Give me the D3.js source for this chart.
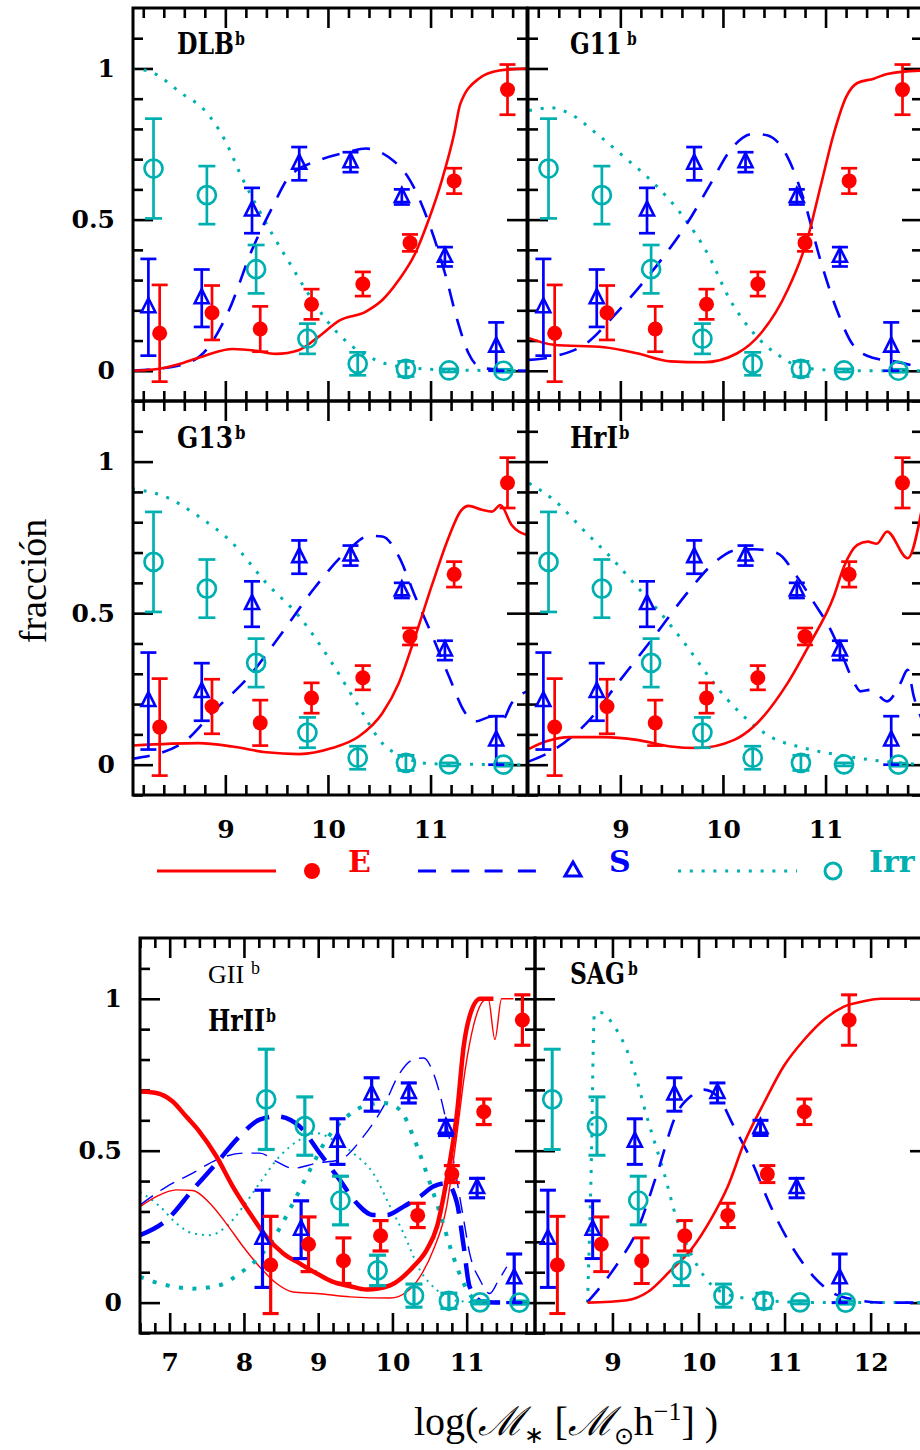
<!DOCTYPE html>
<html>
<head>
<meta charset="utf-8">
<script src="https://cdn.jsdelivr.net/npm/d3@7"></script>
<style>
body { margin:0; background:#fff; }
svg { display:block; }
</style>
</head>
<body>
<div id="chart"></div>
<script>
// observed morphological fractions (same points in every panel)
var obsE_x   = [8.36, 8.87, 9.34, 9.84, 10.34, 10.80, 11.23, 11.75];
var obsE_y   = [0.124, 0.192, 0.138, 0.220, 0.287, 0.423, 0.628, 0.930];
var obsE_err = [0.160, 0.090, 0.075, 0.050, 0.040, 0.028, 0.042, 0.083];

var obsS_x   = [8.25, 8.77, 9.26, 9.72, 10.22, 10.72, 11.14, 11.64];
var obsS_y   = [0.210, 0.240, 0.530, 0.685, 0.690, 0.575, 0.377, 0.080];
var obsS_err = [0.160, 0.095, 0.075, 0.055, 0.033, 0.025, 0.032, 0.080];

var obsIrr_x   = [8.30, 8.82, 9.30, 9.80, 10.29, 10.76, 11.18, 11.71];
var obsIrr_y   = [0.669, 0.581, 0.336, 0.106, 0.023, 0.006, 0.001, 0.000];
var obsIrr_err = [0.165, 0.096, 0.080, 0.050, 0.038, 0.025, 0.005, 0.005];

// model curves [logM, fraction]
var dlbE = [[8.09,0],[8.3,0.004],[8.58,0.025],[8.8,0.05],[9.07,0.072],[9.3,0.066],[9.49,0.056],[9.72,0.069],[9.91,0.113],[10.11,0.166],[10.37,0.196],[10.53,0.234],[10.69,0.3],[10.85,0.388],[10.98,0.498],[11.11,0.63],[11.23,0.784],[11.29,0.883],[11.47,0.966],[11.67,0.993],[11.94,1.0]];
var dlbS = [[8.09,0],[8.58,0.02],[8.84,0.08],[9.03,0.196],[9.26,0.4],[9.46,0.542],[9.62,0.641],[9.91,0.696],[10.2,0.724],[10.37,0.735],[10.59,0.707],[10.8,0.63],[11.02,0.454],[11.15,0.311],[11.26,0.168],[11.37,0.058],[11.5,0.009],[11.94,0]];
var dlbIrr = [[8.09,1.0],[8.28,0.988],[8.58,0.916],[8.8,0.861],[9.0,0.76],[9.16,0.64],[9.33,0.53],[9.46,0.45],[9.62,0.36],[9.78,0.27],[9.98,0.17],[10.24,0.08],[10.46,0.036],[10.76,0.011],[11.18,0.003],[11.94,0]];

var g11E = [[8.11,0.108],[8.35,0.086],[8.84,0.078],[9.16,0.058],[9.49,0.031],[9.81,0.028],[10.14,0.058],[10.37,0.124],[10.63,0.267],[10.82,0.432],[10.95,0.608],[11.08,0.784],[11.2,0.905],[11.31,0.952],[11.47,0.966],[11.6,0.982],[11.94,0.993]];
var g11S = [[8.11,0.036],[8.35,0.047],[8.67,0.091],[8.93,0.179],[9.16,0.267],[9.42,0.377],[9.65,0.487],[9.88,0.619],[10.07,0.729],[10.3,0.784],[10.43,0.779],[10.63,0.707],[10.79,0.564],[10.95,0.366],[11.11,0.201],[11.28,0.08],[11.47,0.042],[11.67,0.031],[11.94,0.009]];
var g11Irr = [[8.11,0.861],[8.32,0.87],[8.51,0.85],[8.77,0.784],[9.0,0.718],[9.33,0.619],[9.59,0.52],[9.85,0.388],[10.07,0.234],[10.3,0.124],[10.56,0.047],[10.79,0.009],[11.28,0],[11.94,0]];

var g13E = [[8.09,0.063],[8.74,0.071],[9.07,0.06],[9.4,0.041],[9.72,0.035],[10.04,0.055],[10.3,0.093],[10.53,0.17],[10.69,0.269],[10.85,0.423],[11.02,0.599],[11.18,0.753],[11.29,0.835],[11.37,0.854],[11.5,0.841],[11.6,0.835],[11.68,0.857],[11.79,0.791],[11.94,0.758]];
var g13S = [[8.09,0.019],[8.58,0.071],[8.9,0.181],[9.23,0.291],[9.55,0.434],[9.88,0.588],[10.2,0.709],[10.4,0.755],[10.53,0.753],[10.69,0.687],[10.85,0.555],[11.02,0.423],[11.18,0.291],[11.34,0.17],[11.44,0.143],[11.6,0.159],[11.7,0.148],[11.79,0.203],[11.94,0.242]];
var g13Irr = [[8.09,0.91],[8.41,0.885],[8.74,0.819],[9.07,0.731],[9.4,0.599],[9.72,0.489],[10.04,0.335],[10.3,0.192],[10.53,0.071],[10.76,0.022],[11.02,0.003],[11.94,0]];

var hr1E = [[8.11,0.052],[8.28,0.077],[8.51,0.091],[8.84,0.091],[9.16,0.082],[9.49,0.06],[9.75,0.055],[10.11,0.082],[10.3,0.126],[10.63,0.269],[10.85,0.401],[11.08,0.555],[11.18,0.654],[11.31,0.725],[11.41,0.736],[11.5,0.729],[11.6,0.769],[11.8,0.681],[11.94,0.846]];
var hr1S = [[8.11,0.011],[8.35,0.049],[8.67,0.137],[9.0,0.28],[9.33,0.423],[9.65,0.566],[9.91,0.665],[10.14,0.709],[10.3,0.711],[10.53,0.698],[10.72,0.621],[10.89,0.533],[11.05,0.445],[11.18,0.346],[11.28,0.269],[11.34,0.242],[11.44,0.247],[11.6,0.209],[11.73,0.269],[11.8,0.313],[11.86,0.225],[11.94,0.148]];
var hr1Irr = [[8.11,0.929],[8.35,0.874],[8.67,0.764],[8.93,0.676],[9.16,0.588],[9.42,0.489],[9.65,0.39],[9.91,0.269],[10.17,0.17],[10.46,0.093],[10.79,0.055],[11.11,0.033],[11.44,0.016],[11.94,0]];

var gIIE = [[6.6,0.316],[6.82,0.349],[7.09,0.371],[7.31,0.369],[7.54,0.327],[7.76,0.261],[7.99,0.184],[8.21,0.118],[8.44,0.063],[8.66,0.035],[8.98,0.03],[9.43,0.019],[9.97,0.015],[10.19,0.035],[10.37,0.085],[10.55,0.173],[10.73,0.316],[10.87,0.558],[10.98,0.767],[11.09,0.91],[11.22,0.992],[11.29,1.0],[11.38,0.866],[11.47,1.0],[11.63,1.0]];
var gIIS = [[6.6,0.321],[6.96,0.382],[7.31,0.426],[7.63,0.47],[7.99,0.492],[8.21,0.492],[8.44,0.464],[8.66,0.442],[8.98,0.459],[9.29,0.47],[9.61,0.547],[9.88,0.646],[10.1,0.756],[10.28,0.8],[10.42,0.805],[10.55,0.756],[10.69,0.635],[10.82,0.47],[10.96,0.272],[11.04,0.162],[11.18,0.074],[11.31,0.03],[11.43,0.074],[11.54,0.118]];
var gIIIrr = [[6.6,0.365],[6.87,0.316],[7.09,0.261],[7.31,0.228],[7.54,0.222],[7.76,0.25],[7.99,0.316],[8.21,0.393],[8.48,0.481],[8.75,0.536],[8.98,0.558],[9.2,0.536],[9.47,0.492],[9.74,0.426],[9.97,0.316],[10.15,0.228],[10.37,0.107],[10.6,0.041],[10.82,0.008],[11.22,0]];

var hr2E = [[6.6,0.695],[6.82,0.69],[7.04,0.662],[7.22,0.613],[7.4,0.563],[7.63,0.481],[7.85,0.382],[8.08,0.294],[8.3,0.217],[8.53,0.162],[8.75,0.129],[8.98,0.096],[9.2,0.068],[9.43,0.054],[9.65,0.043],[9.97,0.057],[10.28,0.118],[10.46,0.173],[10.6,0.25],[10.73,0.404],[10.87,0.624],[10.96,0.844],[11.04,0.943],[11.18,1.0],[11.36,1.0]];
var hr2S = [[6.6,0.222],[6.96,0.272],[7.31,0.371],[7.63,0.459],[7.94,0.547],[8.21,0.602],[8.44,0.613],[8.75,0.58],[9.02,0.492],[9.29,0.404],[9.52,0.327],[9.74,0.288],[9.92,0.288],[10.15,0.316],[10.37,0.349],[10.55,0.382],[10.73,0.393],[10.87,0.327],[10.96,0.184],[11.04,0.052],[11.22,0.002],[11.45,0]];
var hr2Irr = [[6.6,0.085],[6.96,0.057],[7.31,0.046],[7.67,0.057],[7.94,0.096],[8.21,0.151],[8.44,0.228],[8.66,0.327],[8.89,0.437],[9.11,0.536],[9.34,0.602],[9.61,0.646],[9.88,0.657],[10.1,0.635],[10.28,0.547],[10.46,0.426],[10.64,0.294],[10.82,0.151],[10.96,0.063],[11.13,0.008],[11.45,0]];

var sagE = [[8.71,0],[9.17,0.008],[9.41,0.035],[9.68,0.107],[9.91,0.173],[10.14,0.272],[10.34,0.382],[10.53,0.525],[10.76,0.657],[10.99,0.778],[11.23,0.866],[11.46,0.932],[11.69,0.974],[11.92,0.992],[12.12,1.0],[12.7,1.0]];
var sagS = [[8.71,0.002],[8.83,0.041],[9.06,0.129],[9.29,0.239],[9.52,0.426],[9.75,0.624],[9.91,0.679],[10.06,0.701],[10.22,0.679],[10.41,0.58],[10.61,0.47],[10.84,0.316],[11.11,0.173],[11.34,0.085],[11.57,0.03],[11.85,0.008],[12.12,0],[12.7,0]];
var sagIrr = [[8.71,0.0],[8.75,0.4],[8.79,0.95],[8.86,0.955],[9.02,0.91],[9.21,0.8],[9.41,0.602],[9.6,0.426],[9.75,0.272],[9.91,0.162],[10.1,0.074],[10.37,0.024],[10.76,0.008],[11.34,0],[12.7,0]];

var legendNames = ["E", "S", "Irr"];

var col = {E:"#ff0000", S:"#0000ff", Irr:"#00b0b0"};
var lineStyle = {
	E:   {normal:{w:2.6, dash:null}, thick:{w:4.5, dash:null}, thin:{w:1.4, dash:null}},
	S:   {normal:{w:2.6, dash:"18,13"}, thick:{w:4.5, dash:"26,12"}, thin:{w:1.4, dash:"16,9"}},
	Irr: {normal:{w:3, dash:"3,8.8"}, thick:{w:4, dash:"4,9.5"}, thin:{w:2, dash:"2,5"}}
};

var tickFont = "'DejaVu Serif', serif";
var svg = d3.select("#chart").append("svg").attr("width", 920).attr("height", 1450);

var panels = [
	{left:133, top:8,   w:394, h:393, xdom:[8.1,11.94], xlab:false, ylab:true,
	 labels:[{t:"DLB", x:177, y:54, len:57, bx:235, bold:true}],
	 curves:[{d:dlbIrr,k:"Irr"},{d:dlbS,k:"S"},{d:dlbE,k:"E"}]},
	{left:528, top:8,   w:394, h:393, xdom:[8.1,11.94], xlab:false, ylab:false,
	 labels:[{t:"G11", x:570, y:54, len:52, bx:627, bold:true}],
	 curves:[{d:g11Irr,k:"Irr"},{d:g11S,k:"S"},{d:g11E,k:"E"}]},
	{left:133, top:401, w:394, h:394, xdom:[8.1,11.94], xlab:true, ylab:true, xpad:25,
	 labels:[{t:"G13", x:177, y:448, len:56, bx:235, bold:true}],
	 curves:[{d:g13Irr,k:"Irr"},{d:g13S,k:"S"},{d:g13E,k:"E"}]},
	{left:528, top:401, w:394, h:394, xdom:[8.1,11.94], xlab:true, ylab:false, xpad:25,
	 labels:[{t:"HrI", x:570, y:448, len:48, bx:619, bold:true}],
	 curves:[{d:hr1Irr,k:"Irr"},{d:hr1S,k:"S"},{d:hr1E,k:"E"}]},
	{left:140, top:938, w:395, h:395, xdom:[6.6,11.92], xlab:true, ylab:true, xpad:20, errW:3.2,
	 labels:[{t:"GII", x:208, y:983, bx:251, bold:false},
	         {t:"HrII", x:208, y:1031, len:57, bx:266, bold:true}],
	 curves:[{d:gIIIrr,k:"Irr",wt:"thin"},{d:gIIS,k:"S",wt:"thin"},{d:gIIE,k:"E",wt:"thin"},
	         {d:hr2Irr,k:"Irr",wt:"thick"},{d:hr2S,k:"S",wt:"thick"},{d:hr2E,k:"E",wt:"thick"}]},
	{left:535, top:938, w:395, h:395, xdom:[8.1,12.69], xlab:true, ylab:false, xpad:20, errW:3,
	 labels:[{t:"SAG", x:570, y:984, len:55, bx:628, bold:true}],
	 curves:[{d:sagIrr,k:"Irr"},{d:sagS,k:"S"},{d:sagE,k:"E"}]}
];

panels.forEach(function(p, i) { draw_panel(p, i); });

function draw_panel(p, idx) {
	var g = svg.append("g").attr("transform", "translate(" + p.left + "," + p.top + ")");
	var x = d3.scaleLinear().domain(p.xdom).range([0, p.w]);
	var y = d3.scaleLinear().domain([-0.1, 1.2]).range([p.h, 0]);

	var xk = d3.range(Math.ceil(p.xdom[0]*5 - 1e-6), Math.floor(p.xdom[1]*5 + 1e-6) + 1);
	var xMinor = xk.filter(function(k){ return k % 5 !== 0; }).map(function(k){ return k/5; });
	var xMajor = xk.filter(function(k){ return k % 5 === 0; }).map(function(k){ return k/5; });
	var yk = d3.range(-1, 12);
	var yMinor = yk.filter(function(k){ return k % 5 !== 0; }).map(function(k){ return k/10; });
	var yMajor = [0, 0.5, 1];

	function ticks(axisFn, scale, vals, len, tr) {
		g.append("g")
			.attr("transform", tr)
			.call(axisFn(scale).tickValues(vals).tickSize(-len).tickFormat(""))
			.call(function(a){ a.select(".domain").remove(); })
			.selectAll("line")
			.attr("stroke", "#000")
			.attr("stroke-width", 2.6);
	}
	ticks(d3.axisBottom, x, xMinor, 10, "translate(0," + p.h + ")");
	ticks(d3.axisBottom, x, xMajor, 20, "translate(0," + p.h + ")");
	ticks(d3.axisTop, x, xMinor, 10, "translate(0,0)");
	ticks(d3.axisTop, x, xMajor, 20, "translate(0,0)");
	ticks(d3.axisLeft, y, yMinor, 10, "translate(0,0)");
	ticks(d3.axisLeft, y, yMajor, 20, "translate(0,0)");
	ticks(d3.axisRight, y, yMinor, 10, "translate(" + p.w + ",0)");
	ticks(d3.axisRight, y, yMajor, 20, "translate(" + p.w + ",0)");

	if (p.xlab) {
		g.append("g")
			.attr("transform", "translate(0," + p.h + ")")
			.call(d3.axisBottom(x).tickValues(xMajor).tickSize(0).tickPadding(p.xpad).tickFormat(d3.format("d")))
			.call(function(a){ a.select(".domain").remove(); })
			.attr("font-family", tickFont)
			.attr("font-size", 25)
			.attr("font-weight", "bold")
			.selectAll("text").attr("fill", "#000");
	}
	if (p.ylab) {
		g.append("g")
			.call(d3.axisLeft(y).tickValues(yMajor).tickSize(0).tickPadding(18)
				.tickFormat(function(d){ return d === 0.5 ? "0.5" : String(d); }))
			.call(function(a){ a.select(".domain").remove(); })
			.attr("font-family", tickFont)
			.attr("font-size", 25)
			.attr("font-weight", "bold")
			.selectAll("text").attr("fill", "#000");
	}

	// model curves
	var clipId = "clip" + idx;
	g.append("clipPath").attr("id", clipId)
		.append("rect").attr("width", p.w).attr("height", p.h);
	var line = d3.line()
		.x(function(d){ return x(d[0]); })
		.y(function(d){ return y(d[1]); })
		.curve(d3.curveMonotoneX);
	var cg = g.append("g").attr("clip-path", "url(#" + clipId + ")");
	p.curves.forEach(function(c) {
		var st = lineStyle[c.k][c.wt || "normal"];
		cg.append("path")
			.attr("d", line(c.d))
			.attr("fill", "none")
			.attr("stroke", col[c.k])
			.attr("stroke-width", st.w)
			.attr("stroke-dasharray", st.dash)
			.attr("stroke-linejoin", "round");
	});

	// observations with error bars
	var ew = p.errW || 2.7;
	function errbars(xs, ys, es, color, cap) {
		var eg = g.append("g").attr("stroke", color).attr("stroke-width", ew);
		xs.forEach(function(xv, i) {
			var cx = x(xv), top = y(ys[i] + es[i]), bot = y(ys[i] - es[i]);
			eg.append("line").attr("x1", cx).attr("x2", cx).attr("y1", top).attr("y2", bot);
			eg.append("line").attr("x1", cx - cap).attr("x2", cx + cap).attr("y1", top).attr("y2", top);
			eg.append("line").attr("x1", cx - cap).attr("x2", cx + cap).attr("y1", bot).attr("y2", bot);
		});
	}
	errbars(obsIrr_x, obsIrr_y, obsIrr_err, col.Irr, 8.5);
	errbars(obsS_x, obsS_y, obsS_err, col.S, 8);
	errbars(obsE_x, obsE_y, obsE_err, col.E, 8);

	g.selectAll(".irr" + idx)
		.data(obsIrr_x)
		.enter().append("circle")
		.attr("cx", function(d){ return x(d); })
		.attr("cy", function(d, i){ return y(obsIrr_y[i]); })
		.attr("r", 9)
		.attr("fill", "none")
		.attr("stroke", col.Irr)
		.attr("stroke-width", 2.7);
	g.selectAll(".tri" + idx)
		.data(obsS_x)
		.enter().append("path")
		.attr("d", "M0,-9L7,5L-7,5Z")
		.attr("transform", function(d, i){ return "translate(" + x(d) + "," + y(obsS_y[i]) + ")"; })
		.attr("fill", "none")
		.attr("stroke", col.S)
		.attr("stroke-width", 2.6)
		.attr("stroke-linejoin", "miter");
	g.selectAll(".dot" + idx)
		.data(obsE_x)
		.enter().append("circle")
		.attr("cx", function(d){ return x(d); })
		.attr("cy", function(d, i){ return y(obsE_y[i]); })
		.attr("r", 7.5)
		.attr("fill", col.E);

	// frame
	g.append("rect")
		.attr("width", p.w).attr("height", p.h)
		.attr("fill", "none").attr("stroke", "#000").attr("stroke-width", 3);

	// model name labels: one text each, superscript b as a tspan
	p.labels.forEach(function(l) {
		var t = svg.append("text");
		var main = t.append("tspan").text(l.t);
		if (l.bold) {
			t.style("font-family", tickFont).style("font-weight", "bold").style("font-size", "30px");
			var natural = main.node().getComputedTextLength();
			var sx = l.len / natural;
			t.attr("transform", "translate(" + l.x + "," + l.y + ") scale(" + sx + ",1)");
			t.append("tspan")
				.attr("dx", (l.bx - (l.x + l.len)) / sx)
				.attr("dy", -9)
				.style("font-size", "18px")
				.text("b");
		} else {
			t.attr("transform", "translate(" + l.x + "," + l.y + ")")
				.style("font-family", "'Liberation Serif', serif").style("font-size", "26px");
			var w = main.node().getComputedTextLength();
			t.append("tspan")
				.attr("dx", l.bx - l.x - w)
				.attr("dy", -9)
				.style("font-size", "18px")
				.text("b");
		}
	});
}

// legend
var lg = svg.append("g");
var legY = 871;
var legX = [157, 418, 678];
legendNames.forEach(function(k, i) {
	var x0 = legX[i];
	lg.append("line")
		.attr("x1", x0).attr("x2", x0 + 119).attr("y1", legY).attr("y2", legY)
		.attr("stroke", col[k]).attr("stroke-width", 3)
		.attr("stroke-dasharray", k === "S" ? "18,15.3" : (k === "Irr" ? "3,8.8" : null));
	var mx = x0 + 155;
	if (k === "E") {
		lg.append("circle").attr("cx", mx).attr("cy", legY).attr("r", 8).attr("fill", col.E);
	} else if (k === "S") {
		lg.append("path").attr("d", "M0,-8L8,6L-8,6Z")
			.attr("transform", "translate(" + mx + "," + (legY - 1) + ")")
			.attr("fill", "none").attr("stroke", col.S).attr("stroke-width", 3);
	} else {
		lg.append("circle").attr("cx", mx).attr("cy", legY).attr("r", 8)
			.attr("fill", "none").attr("stroke", col.Irr).attr("stroke-width", 3);
	}
	lg.append("text")
		.attr("x", x0 + 191).attr("y", legY + 1)
		.style("font-family", tickFont).style("font-weight", "bold").style("font-size", "30px")
		.attr("fill", col[k])
		.text(k);
});

// axis titles
svg.append("text")
	.attr("transform", "translate(46,581) rotate(-90)")
	.attr("text-anchor", "middle")
	.style("font-family", "'Liberation Serif', serif")
	.style("font-size", "38px")
	.text("fracción");

var xl = svg.append("text")
	.attr("x", 566).attr("y", 1435)
	.attr("text-anchor", "middle")
	.style("font-family", "'Liberation Serif', serif")
	.style("font-size", "40px");
xl.append("tspan").text("log(");
xl.append("tspan").style("font-family", "'DejaVu Serif', serif").style("font-style", "italic").text("ℳ");
xl.append("tspan").attr("dy", 8).style("font-size", "24px").text("∗");
xl.append("tspan").attr("dy", -8).text("\u00a0[");
xl.append("tspan").style("font-family", "'DejaVu Serif', serif").style("font-style", "italic").text("ℳ");
xl.append("tspan").attr("dy", 9).style("font-size", "24px").text("⊙");
xl.append("tspan").attr("dy", -9).text("h");
xl.append("tspan").attr("dy", -15).style("font-size", "26px").text("−1");
xl.append("tspan").attr("dy", 15).text("]\u00a0)");
</script>
</body>
</html>
